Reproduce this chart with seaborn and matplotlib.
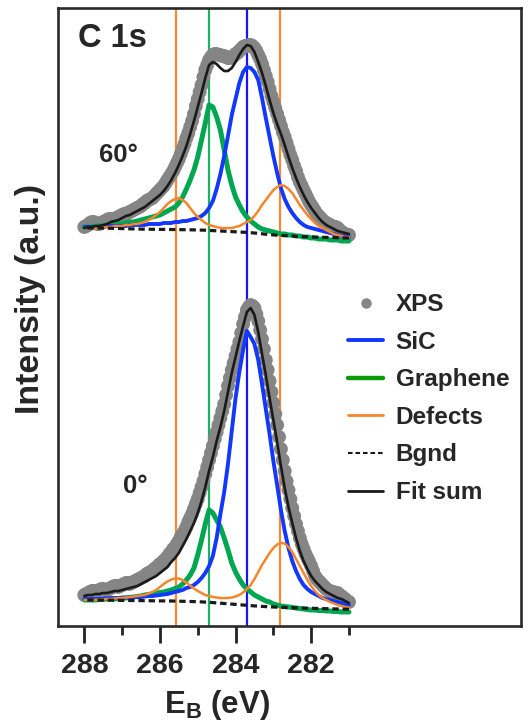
import matplotlib
matplotlib.use("Agg")
import matplotlib.pyplot as plt
from matplotlib.lines import Line2D
from matplotlib.ticker import FixedLocator
import seaborn as sns

# binding energy grid of the fitted curves (eV)
energy = [288.0, 287.9, 287.8, 287.7, 287.6, 287.5, 287.4, 287.3, 287.2, 287.1,
          287.0, 286.9, 286.8, 286.7, 286.6, 286.5, 286.4, 286.3, 286.2, 286.1,
          286.0, 285.9, 285.8, 285.7, 285.6, 285.5, 285.4, 285.3, 285.2, 285.1,
          285.0, 284.9, 284.8, 284.7, 284.6, 284.5, 284.4, 284.3, 284.2, 284.1,
          284.0, 283.9, 283.8, 283.7, 283.6, 283.5, 283.4, 283.3, 283.2, 283.1,
          283.0, 282.9, 282.8, 282.7, 282.6, 282.5, 282.4, 282.3, 282.2, 282.1,
          282.0, 281.9, 281.8, 281.7, 281.6, 281.5, 281.4, 281.3, 281.2, 281.1,
          281.0]

# binding energy of the measured XPS points (eV)
xps_energy = [288.00, 287.95, 287.90, 287.85, 287.80, 287.75, 287.70, 287.65, 287.60, 287.55,
              287.50, 287.45, 287.40, 287.35, 287.30, 287.25, 287.20, 287.15, 287.10, 287.05,
              287.00, 286.95, 286.90, 286.85, 286.80, 286.75, 286.70, 286.65, 286.60, 286.55,
              286.50, 286.45, 286.40, 286.35, 286.30, 286.25, 286.20, 286.15, 286.10, 286.05,
              286.00, 285.95, 285.90, 285.85, 285.80, 285.75, 285.70, 285.65, 285.60, 285.55,
              285.50, 285.45, 285.40, 285.35, 285.30, 285.25, 285.20, 285.15, 285.10, 285.05,
              285.00, 284.95, 284.90, 284.85, 284.80, 284.75, 284.70, 284.65, 284.60, 284.55,
              284.50, 284.45, 284.40, 284.35, 284.30, 284.25, 284.20, 284.15, 284.10, 284.05,
              284.00, 283.95, 283.90, 283.85, 283.80, 283.75, 283.70, 283.65, 283.60, 283.55,
              283.50, 283.45, 283.40, 283.35, 283.30, 283.25, 283.20, 283.15, 283.10, 283.05,
              283.00, 282.95, 282.90, 282.85, 282.80, 282.75, 282.70, 282.65, 282.60, 282.55,
              282.50, 282.45, 282.40, 282.35, 282.30, 282.25, 282.20, 282.15, 282.10, 282.05,
              282.00, 281.95, 281.90, 281.85, 281.80, 281.75, 281.70, 281.65, 281.60, 281.55,
              281.50, 281.45, 281.40, 281.35, 281.30, 281.25, 281.20, 281.15, 281.10, 281.05,
              281.00]

# ---- 60 deg (offset spectrum) ----
xps_60 = [399, 400, 401, 403, 404, 404, 403, 402, 402, 403,
          404, 405, 406, 407, 407, 406, 406, 408, 409, 410,
          411, 412, 412, 413, 414, 415, 416, 417, 418, 419,
          420, 422, 423, 425, 426, 427, 428, 430, 432, 434,
          436, 438, 440, 443, 446, 449, 452, 455, 459, 463,
          467, 472, 477, 482, 488, 493, 499, 505, 512, 520,
          527, 534, 541, 549, 556, 561, 566, 569, 571, 572,
          572, 571, 571, 570, 570, 569, 568, 568, 569, 570,
          572, 573, 575, 577, 579, 580, 580, 581, 581, 580,
          578, 575, 571, 567, 562, 556, 550, 544, 537, 530,
          524, 518, 512, 506, 500, 494, 489, 483, 477, 471,
          466, 460, 455, 449, 444, 440, 436, 432, 428, 424,
          421, 418, 415, 412, 410, 408, 406, 404, 403, 402,
          401, 400, 399, 399, 398, 396, 394, 393, 392, 391,
          391]
fit_60 = [398, 399, 399, 400, 400, 401, 402, 404, 405, 406,
          408, 410, 411, 413, 415, 417, 419, 422, 425, 428,
          431, 435, 440, 446, 453, 461, 470, 480, 492, 505,
          519, 533, 548, 561, 564, 562, 558, 555, 555, 558,
          564, 571, 577, 581, 580, 574, 564, 553, 540, 526,
          513, 502, 492, 481, 469, 458, 448, 439, 431, 424,
          418, 413, 408, 404, 401, 399, 397, 395, 394, 393,
          392]
sic_60 = [399, 399, 399, 399, 399, 399, 400, 400, 400, 400,
          400, 400, 401, 401, 401, 401, 401, 402, 402, 402,
          402, 403, 403, 403, 404, 404, 405, 405, 406, 407,
          408, 410, 413, 418, 425, 437, 452, 470, 490, 511,
          527, 543, 554, 559, 558, 554, 546, 528, 508, 489,
          470, 453, 438, 427, 419, 413, 408, 404, 401, 399,
          398, 397, 396, 395, 394, 393, 392, 391, 390, 390,
          389]
graphene_60 = [399, 399, 399, 400, 400, 400, 401, 401, 401, 402,
               402, 403, 404, 404, 405, 406, 407, 408, 409, 410,
               411, 413, 415, 417, 419, 423, 429, 437, 446, 456,
               469, 486, 503, 521, 519, 509, 496, 476, 456, 441,
               429, 421, 414, 409, 405, 402, 399, 397, 396, 395,
               394, 393, 392, 392, 391, 391, 390, 390, 389, 389,
               388, 388, 387, 387, 387, 386, 386, 386, 385, 385,
               385]
defects_60 = [398, 398, 398, 398, 398, 399, 399, 399, 400, 400,
              400, 401, 401, 402, 402, 403, 404, 406, 408, 411,
              414, 418, 422, 425, 427, 428, 426, 423, 418, 413,
              409, 406, 403, 401, 400, 399, 398, 398, 398, 398,
              399, 400, 402, 404, 406, 410, 415, 421, 426, 431,
              436, 439, 441, 440, 437, 433, 427, 421, 416, 411,
              407, 403, 400, 398, 396, 394, 392, 391, 390, 389,
              389]
bgnd_60 = [398, 398, 398, 398, 398, 397.9, 397.8, 397.7, 397.6, 397.5,
           397.4, 397.3, 397.2, 397.1, 397, 396.9, 396.8, 396.8, 396.7, 396.7,
           396.6, 396.6, 396.5, 396.5, 396.4, 396.4, 396.3, 396.3, 396.2, 396.1,
           396, 395.9, 395.8, 395.6, 395.4, 395.2, 395, 394.8, 394.6, 394.4,
           394.2, 394, 393.8, 393.6, 393.3, 393, 392.6, 392.2, 391.8, 391.4,
           391.1, 390.8, 390.6, 390.3, 390.1, 389.9, 389.7, 389.5, 389.3, 389.2,
           389, 388.9, 388.8, 388.7, 388.6, 388.5, 388.4, 388.3, 388.2, 388.1,
           388]

# ---- 0 deg ----
xps_0 = [31, 32, 33, 34, 35, 35, 34, 35, 36, 37,
         37, 36, 36, 37, 38, 39, 40, 40, 39, 40,
         41, 42, 43, 43, 42, 43, 44, 45, 46, 47,
         48, 49, 50, 52, 53, 54, 55, 57, 58, 60,
         62, 63, 65, 67, 69, 72, 74, 77, 79, 82,
         85, 89, 92, 95, 99, 104, 108, 112, 117, 122,
         127, 133, 139, 145, 152, 159, 166, 173, 180, 187,
         194, 201, 208, 215, 222, 231, 240, 248, 256, 263,
         270, 277, 284, 293, 302, 309, 316, 319, 321, 320,
         318, 312, 305, 296, 287, 277, 266, 256, 245, 234,
         223, 212, 201, 189, 177, 166, 155, 145, 136, 127,
         118, 110, 102, 95, 88, 82, 77, 72, 68, 64,
         60, 55, 50, 47, 45, 43, 41, 39, 37, 36,
         35, 34, 34, 33, 33, 31, 30, 28, 27, 25,
         24]
fit_0 = [30, 31, 31, 32, 32, 33, 33, 34, 35, 35,
         36, 37, 38, 39, 40, 42, 44, 46, 48, 50,
         53, 56, 59, 64, 68, 73, 80, 87, 95, 103,
         113, 125, 139, 155, 169, 185, 199, 215, 234, 253,
         269, 285, 300, 314, 318, 311, 294, 272, 251, 228,
         206, 184, 160, 138, 119, 103, 88, 75, 65, 57,
         50, 45, 41, 37, 34, 32, 30, 28, 27, 25,
         23]
sic_0 = [27, 27, 27, 27, 27, 27.5, 27.5, 28, 28, 28,
         28, 28.5, 28.5, 29, 29, 29, 29.5, 30, 30, 30.5,
         31, 31.5, 32, 33, 34, 35, 36, 38, 39, 41,
         44, 48, 53, 60, 70, 88, 112, 134, 162, 195,
         228, 254, 276, 295, 289, 282, 266, 242, 217, 192,
         165, 141, 116, 95, 78, 65, 55, 47, 41, 37,
         34, 32, 30, 28, 27, 26, 25, 24, 23, 22,
         21]
graphene_0 = [26, 26, 26, 26, 26.5, 26.5, 27, 27, 27, 27.5,
              28, 28, 28.5, 29, 29.5, 30, 31, 31.5, 32, 33,
              33.5, 34, 35, 36, 37.5, 39, 42, 46, 51, 58,
              71, 86, 102, 116, 113, 106, 99, 88, 76, 63,
              54, 47, 41, 37, 34, 31, 29, 27, 25, 24,
              22, 21, 20, 19.5, 19, 18.5, 18, 17.5, 17, 16.5,
              16, 16, 15.5, 15.5, 15, 15, 14.5, 14.5, 14, 14,
              14]
defects_0 = [26, 26, 26, 26, 26.5, 26.5, 27, 27, 27.5, 28,
             28, 28.5, 29, 29.5, 30, 30.5, 31, 32.5, 34, 36,
             39, 42, 44.5, 46.5, 47.5, 47.5, 46, 43.5, 40.5, 37.5,
             35, 33, 31, 30, 29, 28.5, 28, 28, 28, 28.5,
             29.5, 31, 33.5, 37, 41, 47, 54, 61, 67, 73,
             78, 81.5, 83, 82.5, 79, 74, 67, 60, 53, 46,
             40, 35, 31, 28, 26, 24, 22.5, 21, 20, 19,
             18.5]
bgnd_0 = [26, 26, 26, 26, 25.9, 25.9, 25.8, 25.8, 25.7, 25.7,
          25.6, 25.6, 25.5, 25.5, 25.4, 25.4, 25.3, 25.3, 25.2, 25.2,
          25.1, 25.1, 25, 25, 24.9, 24.8, 24.7, 24.6, 24.5, 24.4,
          24.3, 24.1, 23.9, 23.7, 23.4, 23.1, 22.8, 22.5, 22.2, 21.9,
          21.6, 21.3, 21, 20.7, 20.4, 20.1, 19.9, 19.6, 19.4, 19.2,
          19, 18.8, 18.7, 18.5, 18.4, 18.3, 18.1, 18, 17.9, 17.8,
          17.7, 17.6, 17.5, 17.4, 17.3, 17.2, 17.1, 17, 16.9, 16.8,
          16.7]

# fitted peak positions (eV): defect, graphene, SiC, defect
peak_pos = [285.57, 284.70, 283.70, 282.82]
peak_cols = ['#f98a35', '#1db163', '#1414ff', '#f98a35']

sns.set_style("white")
plt.rcParams['font.family'] = ['Liberation Sans', 'DejaVu Sans']
plt.rcParams['font.weight'] = 'bold'
plt.rcParams['mathtext.fontset'] = 'custom'
plt.rcParams['mathtext.rm'] = 'Liberation Sans:bold'
plt.rcParams['mathtext.bf'] = 'Liberation Sans:bold'

c_xps = '#858585'
c_sic = '#1238ff'
c_gra = '#00a650'
c_def = '#f7862b'

fig = plt.figure(figsize=(5.28, 7.26), dpi=100, facecolor='w')
ax = fig.add_axes([58 / 528, 1 - 626 / 726, 463 / 528, 618 / 726])

for pos, col in zip(peak_pos, peak_cols):
    ax.axvline(pos, color=col, lw=1.6, zorder=1)

for xps, fit, sic, gra, dfc, bg in [(xps_60, fit_60, sic_60, graphene_60, defects_60, bgnd_60),
                                      (xps_0, fit_0, sic_0, graphene_0, defects_0, bgnd_0)]:
    sns.scatterplot(x=xps_energy, y=xps, ax=ax, color=c_xps, s=100, edgecolor='none', zorder=2, legend=False)
    sns.lineplot(x=energy, y=gra, ax=ax, color=c_gra, lw=3.6, estimator=None, zorder=3, legend=False)
    sns.lineplot(x=energy, y=sic, ax=ax, color=c_sic, lw=2.8, estimator=None, zorder=4, legend=False)
    sns.lineplot(x=energy, y=dfc, ax=ax, color=c_def, lw=1.8, estimator=None, zorder=5, legend=False)
    sns.lineplot(x=energy, y=bg, ax=ax, color='#1a1a1a', lw=2.3, estimator=None, zorder=6, legend=False)
    ax.lines[-1].set_dashes([2.0, 1.2])
    sns.lineplot(x=energy, y=fit, ax=ax, color='#1a1a1a', lw=1.9, estimator=None, zorder=7, legend=False)

ax.set_xlim(288.696, 276.45)
ax.set_ylim(0, 618)
ax.set_yticks([])

ax.xaxis.set_major_locator(FixedLocator([288, 286, 284, 282]))
ax.xaxis.set_minor_locator(FixedLocator([287, 285, 283, 281]))
ax.tick_params(axis='x', which='major', direction='out', length=12.5, width=2.0,
               color='#222222', labelsize=20.5, pad=7, bottom=True)
ax.tick_params(axis='x', which='minor', direction='out', length=6.5, width=2.0,
               color='#222222', bottom=True)
for s in ax.spines.values():
    s.set_color('#2a2a2a')
    s.set_linewidth(1.9)

ax.set_xlabel(r'E$_{\mathbf{B}}$ (eV)', fontsize=22.5, fontweight='bold')
ax.xaxis.set_label_coords(0.343, -0.1)
ax.set_ylabel('Intensity (a.u.)', fontsize=24.5, fontweight='bold')
ax.yaxis.set_label_coords(-0.026, 0.53)

ax.text(0.043, 0.937, 'C 1s', transform=ax.transAxes, fontsize=23.5, fontweight='bold', va='baseline')
ax.text(0.0886, 0.751, '60°', transform=ax.transAxes, fontsize=18.5, fontweight='bold', va='baseline')
ax.text(0.140, 0.215, '0°', transform=ax.transAxes, fontsize=18.5, fontweight='bold', va='baseline')

handles = [
    Line2D([], [], ls='none', marker='o', markersize=7.5, color=c_xps, markeredgecolor='none'),
    Line2D([], [], color=c_sic, lw=2.8),
    Line2D([], [], color='#0a9a0a', lw=3.2),
    Line2D([], [], color=c_def, lw=2.0),
    Line2D([], [], color='#1a1a1a', lw=1.5, dashes=[2.2, 1.4]),
    Line2D([], [], color='#1a1a1a', lw=2.0),
]
labels = ['XPS', 'SiC', 'Graphene', 'Defects', 'Bgnd', 'Fit sum']
fig.legend(handles, labels, loc='upper left', bbox_to_anchor=(336 / 528, 1 - 281 / 726),
           frameon=False, handlelength=1.45, handletextpad=0.5,
           labelspacing=0.6, borderpad=0, prop={'weight': 'bold', 'size': 17.5})

fig.savefig('out.png', dpi=100, facecolor='w')
